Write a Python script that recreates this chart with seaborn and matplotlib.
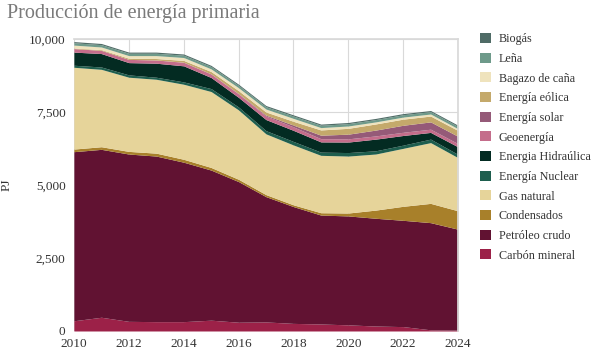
import numpy as np
import matplotlib
matplotlib.use("Agg")
import matplotlib.pyplot as plt
from matplotlib.patches import Patch
import pandas as pd
import seaborn as sns

years = list(range(2010, 2025))

carbon = [350, 470, 330, 320, 320, 370, 300, 310, 260, 240, 210, 170, 150, 40, 30]
petroleo = [5790, 5750, 5730, 5670, 5460, 5140, 4815, 4290, 4000, 3730, 3730, 3690, 3640, 3670, 3455]
condensados = [90, 90, 90, 100, 100, 90, 80, 70, 60, 80, 100, 280, 480, 660, 630]
gas = [2800, 2650, 2540, 2530, 2570, 2600, 2375, 2080, 2050, 1965, 1950, 1920, 1985, 2080, 1820]
nuclear = [70, 80, 80, 70, 80, 100, 100, 110, 120, 110, 120, 110, 110, 120, 110]
hidro = [450, 460, 420, 480, 550, 380, 330, 380, 380, 350, 360, 400, 330, 230, 260]
geo = [120, 110, 110, 110, 120, 120, 120, 120, 120, 110, 110, 110, 110, 110, 110]
solar = [0, 0, 0, 0, 5, 5, 10, 30, 60, 120, 160, 200, 240, 250, 250]
eolica = [20, 25, 40, 50, 60, 80, 100, 110, 130, 180, 200, 210, 210, 200, 200]
bagazo = [100, 90, 90, 100, 100, 90, 100, 100, 100, 80, 80, 70, 70, 70, 60]
lena = [80, 80, 80, 80, 80, 80, 80, 80, 80, 80, 80, 80, 80, 80, 80]
biogas = [40, 40, 40, 40, 40, 40, 40, 40, 40, 40, 40, 40, 40, 40, 40]

labels = ["Carbón mineral", "Petróleo crudo", "Condensados", "Gas natural",
          "Energía Nuclear", "Energia Hidraúlica", "Geoenergía", "Energía solar",
          "Energía eólica", "Bagazo de caña", "Leña", "Biogás"]
colors = ["#9c2148", "#611232", "#a8802a", "#e6d49a", "#1e5e4e", "#032b22",
          "#c46d8b", "#955a78", "#c4a96b", "#efe3bd", "#6e9a8a", "#4f6b66"]

df = pd.DataFrame({
    labels[0]: carbon, labels[1]: petroleo, labels[2]: condensados,
    labels[3]: gas, labels[4]: nuclear, labels[5]: hidro, labels[6]: geo,
    labels[7]: solar, labels[8]: eolica, labels[9]: bagazo,
    labels[10]: lena, labels[11]: biogas,
}, index=years)

sns.set_theme(style="whitegrid")
plt.rcParams['font.family'] = ['Liberation Serif', 'DejaVu Serif']

fig = plt.figure(figsize=(5.91, 3.51), dpi=100)
ax = fig.add_axes([0.125, 0.057, 0.65, 0.832])

ax.stackplot(df.index, [df[c].values for c in labels], colors=colors, linewidth=0)

ax.set_xlim(2010, 2024)
ax.set_ylim(0, 10000)
ax.set_xticks(range(2010, 2025, 2))
ax.set_yticks([0, 2500, 5000, 7500, 10000])
ax.set_yticklabels(["0", "2,500", "5,000", "7,500", "10,000"])
ax.tick_params(axis="both", labelsize=9.5, colors="#333333", length=0)
ax.tick_params(axis="x", pad=5)
ax.tick_params(axis="y", pad=6)
ax.grid(True, color="#d9d9d9", linewidth=0.8)
ax.set_axisbelow(True)
for s in ax.spines.values():
    s.set_visible(False)
ax.spines["right"].set_visible(True)
ax.spines["right"].set_color("#d9d9d9")
ax.spines["top"].set_visible(True)
ax.spines["top"].set_color("#d9d9d9")
ax.set_ylabel("PJ", fontsize=9.5, color="#333333", labelpad=12)

handles = [Patch(facecolor=c, edgecolor="none") for c in colors][::-1]
fig.legend(handles, labels[::-1], loc="upper left", bbox_to_anchor=(0.813, 0.906),
           frameon=False, fontsize=8.7, handlelength=0.9, handleheight=0.9,
           handletextpad=0.6, labelspacing=0.62, borderpad=0, borderaxespad=0,
           labelcolor="#333333")

fig.text(0.012, 0.962, "Producción de energía primaria", fontsize=14.5,
         color="#7a7a7a", va="center", ha="left")

fig.savefig("out.png", dpi=100)
